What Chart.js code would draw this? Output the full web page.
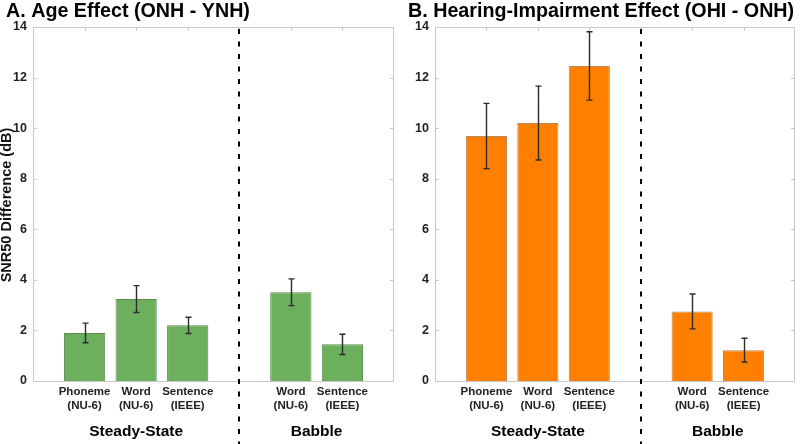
<!DOCTYPE html>
<html>
<head>
<meta charset="utf-8">
<script src="https://cdn.jsdelivr.net/npm/chart.js@4/dist/chart.umd.min.js"></script>
<style>
  html, body { margin: 0; padding: 0; background: #fff; }
  #wrap { position: relative; width: 800px; height: 444px; }
  .panel { position: absolute; top: 0; width: 400px; height: 444px; }
  #panel-a { left: 0; }
  #panel-b { left: 400px; }
</style>
</head>
<body>
<div id="wrap">
  <div class="panel" id="panel-a"><canvas id="chart-a"></canvas></div>
  <div class="panel" id="panel-b"><canvas id="chart-b"></canvas></div>
</div>
<script>
// Category slots: empty edge slots and an empty slot for the divider
const categories = [
  "",
  ["Phoneme", "(NU-6)"],
  ["Word", "(NU-6)"],
  ["Sentence", "(IEEE)"],
  "",
  ["Word", "(NU-6)"],
  ["Sentence", "(IEEE)"],
  "",
];

// Panel A: Age effect (ONH - YNH)
const ageValues = [null, 1.9, 3.24, 2.2, null, 3.51, 1.45];
const ageErrors = [null, 0.39, 0.53, 0.32, null, 0.53, 0.40];

// Panel B: Hearing-impairment effect (OHI - ONH)
const hiValues = [null, 9.69, 10.2, 12.46, null, 2.75, 1.22];
const hiErrors = [null, 1.29, 1.46, 1.35, null, 0.69, 0.47];

const yTicks = [0, 2, 4, 6, 8, 10, 12, 14];
const groupLabels = ["Steady-State", "Babble"];
const dividerIndex = 4;

const FONT = "Arial, 'Liberation Sans', sans-serif";
const BOX_COLOR = "#c9c9c9";

// Draws box, inward ticks, divider, error bars, titles and group labels
const decorPlugin = {
  id: "decor",
  afterDatasetsDraw(chart, args, opts) {
    const ctx = chart.ctx;
    const area = chart.chartArea;
    const x = chart.scales.x;
    const y = chart.scales.y;

    ctx.save();

    // axes box
    ctx.strokeStyle = BOX_COLOR;
    ctx.lineWidth = 1;
    ctx.strokeRect(area.left + 0.5, area.top + 0.5, area.right - area.left - 1, area.bottom - area.top);

    // inward tick marks
    ctx.beginPath();
    yTicks.forEach((t) => {
      const py = Math.round(y.getPixelForValue(t)) + 0.5;
      ctx.moveTo(area.left, py);
      ctx.lineTo(area.left + 4, py);
      ctx.moveTo(area.right, py);
      ctx.lineTo(area.right - 4, py);
    });
    for (let i = 1; i < categories.length - 1; i++) {
      const px = Math.round(x.getPixelForValue(i)) + 0.5;
      ctx.moveTo(px, area.top);
      ctx.lineTo(px, area.top + 4);
    }
    ctx.stroke();

    // error bars
    const values = opts.values;
    const errors = opts.errors;
    ctx.strokeStyle = "#2b2b2b";
    ctx.lineWidth = 1.4;
    ctx.beginPath();
    values.forEach((v, i) => {
      if (v == null) return;
      const px = Math.round(x.getPixelForValue(i)) + 0.5;
      const top = y.getPixelForValue(v + errors[i]);
      const bot = y.getPixelForValue(v - errors[i]);
      ctx.moveTo(px, top);
      ctx.lineTo(px, bot);
      ctx.moveTo(px - 3, top);
      ctx.lineTo(px + 3, top);
      ctx.moveTo(px - 3, bot);
      ctx.lineTo(px + 3, bot);
    });
    ctx.stroke();

    // dashed divider
    const dx = Math.round(x.getPixelForValue(dividerIndex));
    ctx.strokeStyle = "#000";
    ctx.lineWidth = 2;
    ctx.setLineDash([5, 7.5]);
    ctx.beginPath();
    ctx.moveTo(dx, area.top + 2);
    ctx.lineTo(dx, chart.height);
    ctx.stroke();
    ctx.setLineDash([]);

    // group labels
    ctx.fillStyle = "#000";
    ctx.font = "bold 15.5px " + FONT;
    ctx.textAlign = "center";
    ctx.textBaseline = "middle";
    ctx.fillText(groupLabels[0], x.getPixelForValue(2), 432);
    ctx.fillText(groupLabels[1], (x.getPixelForValue(5) + x.getPixelForValue(6)) / 2, 432);

    // y-axis title
    if (opts.yTitle) {
      ctx.save();
      ctx.translate(7, (area.top + area.bottom) / 2 + 1);
      ctx.rotate(-Math.PI / 2);
      ctx.fillStyle = "#111";
      ctx.font = "bold 14.5px " + FONT;
      ctx.fillText(opts.yTitle, 0, 0);
      ctx.restore();
    }

    // panel title
    ctx.font = "bold 19.7px " + FONT;
    ctx.textAlign = "left";
    ctx.fillText(opts.title, opts.titleX, 12);

    ctx.restore();
  },
};

function makeChart(canvasId, values, errors, opts) {
  return new Chart(document.getElementById(canvasId), {
    type: "bar",
    data: {
      labels: categories,
      datasets: [
        {
          data: values,
          backgroundColor: opts.fill,
          borderColor: opts.border,
          borderWidth: 1,
          barPercentage: 0.8,
          categoryPercentage: 1,
        },
      ],
    },
    options: {
      responsive: true,
      maintainAspectRatio: false,
      animation: false,
      layout: { padding: { top: 27, right: opts.padRight, left: 0, bottom: 0 } },
      plugins: {
        legend: { display: false },
        tooltip: { enabled: false },
        decor: {
          values: values,
          errors: errors,
          title: opts.title,
          titleX: opts.titleX,
          yTitle: opts.yTitle,
        },
      },
      scales: {
        x: {
          offset: false,
          grid: { display: false, drawTicks: false },
          border: { display: false },
          ticks: {
            autoSkip: false,
            maxRotation: 0,
            padding: 4,
            color: "#222",
            font: { family: FONT, size: 11.5, weight: "bold", lineHeight: 1.2 },
          },
          afterFit: (scale) => { scale.height = 63; },
        },
        y: {
          min: 0,
          max: 14,
          grid: { display: false, drawTicks: false },
          border: { display: false },
          ticks: {
            stepSize: 2,
            padding: 6,
            color: "#222",
            font: { family: FONT, size: 12.5, weight: "bold" },
          },
          afterFit: (scale) => { scale.width = opts.yWidth; },
        },
      },
    },
    plugins: [decorPlugin],
  });
}

makeChart("chart-a", ageValues, ageErrors, {
  fill: "#6cb05e",
  border: "#5a8c4e",
  title: "A. Age Effect (ONH - YNH)",
  titleX: 6,
  yTitle: "SNR50 Difference (dB)",
  yWidth: 33,
  padRight: 6,
});

makeChart("chart-b", hiValues, hiErrors, {
  fill: "#ff8000",
  border: "#b8875c",
  title: "B. Hearing-Impairment Effect (OHI - ONH)",
  titleX: 8,
  yTitle: "",
  yWidth: 35,
  padRight: 5,
});
</script>
</body>
</html>
